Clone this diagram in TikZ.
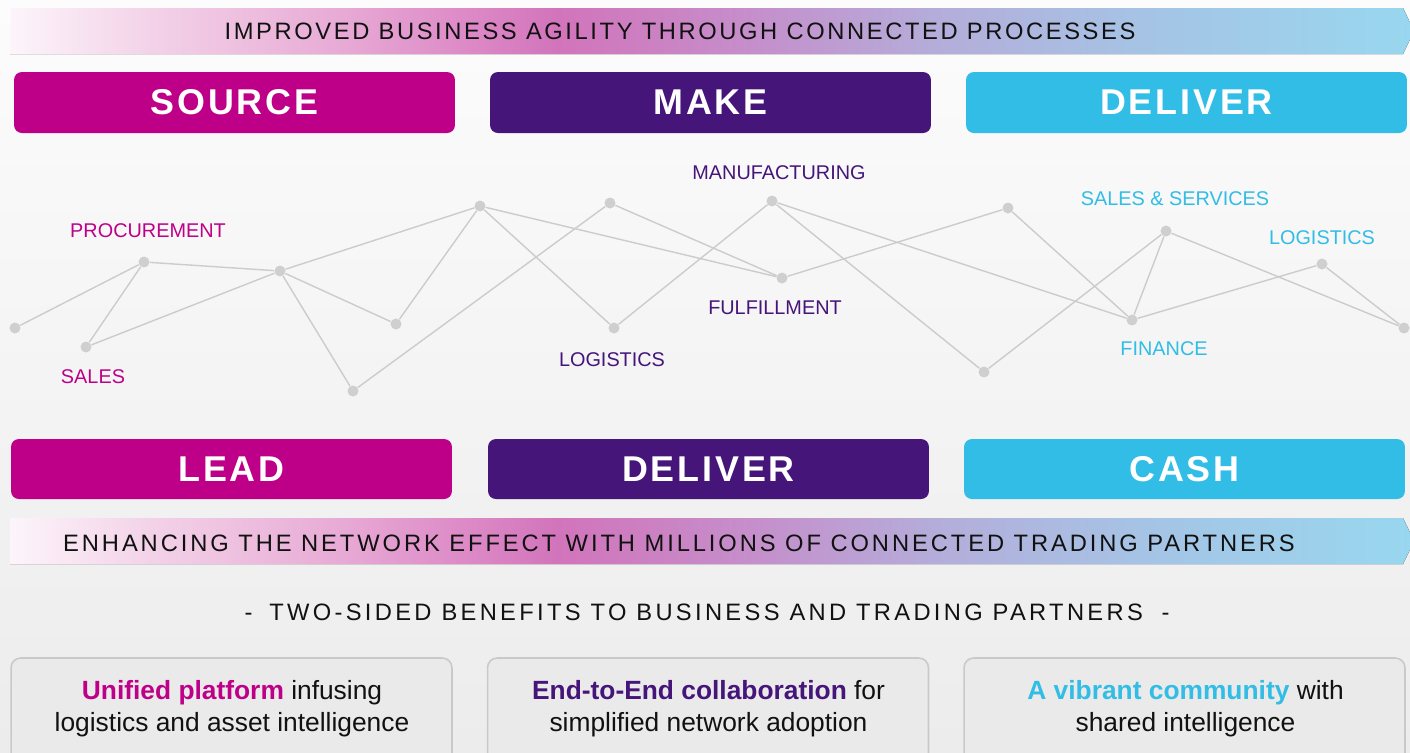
\documentclass[tikz,border=0pt]{standalone}
\usepackage{fontspec}
\setmainfont{Liberation Sans}
\usetikzlibrary{positioning}

\definecolor{srcmag}{HTML}{BE0089}
\definecolor{mkpurple}{HTML}{45157A}
\definecolor{dlvcyan}{HTML}{31BDE5}
\definecolor{dotgray}{HTML}{CFCFCF}
\definecolor{linegray}{HTML}{CCCCCC}
\definecolor{boxgray}{HTML}{C9C9C9}
\definecolor{boxfill}{HTML}{EAEAEA}
\definecolor{bgtop}{HTML}{FCFCFC}
\definecolor{bgbot}{HTML}{ECECEC}
\definecolor{inkblack}{HTML}{111111}
% banner gradient stops
\definecolor{bnA}{HTML}{F3D2E8}
\definecolor{bnB}{HTML}{E8ACD6}
\definecolor{bnC}{HTML}{DC88C6}
\definecolor{bnD}{HTML}{D274BB}
\definecolor{bnE}{HTML}{C58FCB}
\definecolor{bnF}{HTML}{B4ADDA}
\definecolor{bnG}{HTML}{A5C4E5}
\definecolor{bnH}{HTML}{98D7EF}

\pgfdeclarehorizontalshading{bannershade}{100bp}{%
  color(0bp)=(white); color(25bp)=(white!96!srcmag);
  color(30bp)=(bnA); color(36.5bp)=(bnB); color(41.5bp)=(bnC);
  color(44.5bp)=(bnD); color(51.5bp)=(bnE); color(58bp)=(bnF);
  color(65.5bp)=(bnG); color(75bp)=(bnH); color(100bp)=(bnH)}

\begin{document}
\begin{tikzpicture}[x=0.02cm,y=-0.02cm,
  hdr/.style={rectangle,rounded corners=4.5pt,minimum width=8.82cm,minimum height=1.22cm,
    text=white,font=\fontsize{20.4}{24}\selectfont\bfseries\addfontfeature{LetterSpace=8}},
  banner text/.style={inner sep=0pt,text=inkblack,
    font=\fontsize{13.5}{16}\selectfont\addfontfeature{LetterSpace=#1}},
  banner text/.default=11,
  dot/.style={circle,fill=dotgray,minimum size=0.22cm,inner sep=0pt},
  link/.style={draw=linegray,line width=0.8pt},
  tag/.style={inner sep=0pt,font=\fontsize{11.3}{13}\selectfont},
  benefit/.style={rectangle,rounded corners=5.5pt,draw=boxgray,line width=0.9pt,fill=boxfill,
    minimum width=8.82cm,minimum height=2.4cm},
  benefit text/.style={inner sep=0pt,anchor=north,align=center,text=inkblack,
    font=\fontsize{15}{18.1}\selectfont}]

\useasboundingbox (0,0) rectangle (1410,752);
\clip (0,0) rectangle (1410,752);
\fill[top color=bgtop,bottom color=bgbot] (0,0) rectangle (1410,752);

% gradient banners
\fill[shading=bannershade] (10,8) -- (1403,8) -- (1414,31) -- (1403,54) -- (10,54) -- cycle;
\fill[shading=bannershade] (10,518) -- (1403,518) -- (1414,541) -- (1403,564) -- (10,564) -- cycle;
\node[banner text] (agility) at (680,31) {IMPROVED BUSINESS AGILITY THROUGH CONNECTED PROCESSES};
\node[banner text=12.3] (network) at (679,543) {ENHANCING THE NETWORK EFFECT WITH MILLIONS OF CONNECTED TRADING PARTNERS};
\node[banner text=14] (twosided) at (707,612) {-\hspace{4pt} TWO-SIDED BENEFITS TO BUSINESS AND TRADING PARTNERS\hspace{5pt} -};

% process headers
\node[hdr,fill=srcmag]   (source)   at (234.5,102.5) {SOURCE};
\node[hdr,fill=mkpurple] (make)     at (710.5,102.5) {MAKE};
\node[hdr,fill=dlvcyan]  (deliver)  at (1186.5,102.5) {DELIVER};
\node[hdr,fill=srcmag,minimum height=1.2cm]   (lead)     at (231.5,469) {LEAD};
\node[hdr,fill=mkpurple,minimum height=1.2cm] (deliver2) at (708.5,469) {DELIVER};
\node[hdr,fill=dlvcyan,minimum height=1.2cm]  (cash)     at (1184.5,469) {CASH};

% network dots
\node[dot] (a)         at (15,328) {};
\node[dot] (procure)   at (144,262) {};
\node[dot] (sales)     at (86,347) {};
\node[dot] (b)         at (280,271) {};
\node[dot] (c)         at (396,324) {};
\node[dot] (d)         at (353,391) {};
\node[dot] (e)         at (480,206) {};
\node[dot] (f)         at (610,203) {};
\node[dot] (logist)    at (614,328) {};
\node[dot] (manuf)     at (772,201) {};
\node[dot] (fulfil)    at (782,278) {};
\node[dot] (g)         at (1008,208) {};
\node[dot] (h)         at (984,372) {};
\node[dot] (salesserv) at (1166,231) {};
\node[dot] (finance)   at (1132,320) {};
\node[dot] (logist2)   at (1322,264) {};
\node[dot] (i)         at (1404,328) {};

\path[link] (a) edge (procure)
  (procure) edge (sales) edge (b)
  (sales) edge (b)
  (b) edge (c) edge (d) edge (e)
  (c) edge (e)
  (d) edge (f)
  (e) edge (logist) edge (fulfil)
  (f) edge (fulfil)
  (logist) edge (manuf)
  (manuf) edge (finance) edge (h)
  (fulfil) edge (g)
  (g) edge (finance)
  (h) edge (salesserv)
  (salesserv) edge (finance) edge (i)
  (finance) edge (logist2)
  (logist2) edge (i);

% network labels
\node[tag,text=srcmag]   (procuretag)   at (148,231)  {PROCUREMENT};
\node[tag,text=srcmag]   (salestag)     at (93,377)   {SALES};
\node[tag,text=mkpurple] (logisttag)    at (612,360)  {LOGISTICS};
\node[tag,text=mkpurple] (manuftag)     at (779,173)  {MANUFACTURING};
\node[tag,text=mkpurple] (fulfiltag)    at (775,308)  {FULFILLMENT};
\node[tag,text=dlvcyan]  (salesservtag) at (1175,199) {SALES \& SERVICES};
\node[tag,text=dlvcyan]  (logist2tag)   at (1322,238) {LOGISTICS};
\node[tag,text=dlvcyan]  (financetag)   at (1164,349) {FINANCE};

% benefit boxes
\node[benefit] (unified) at (231.5,718) {};
\node[benefit] (endtoend) at (708,718) {};
\node[benefit] (vibrant) at (1184.5,718) {};
\node[benefit text] (unifiedtxt) at (232,680)
  {\textcolor{srcmag}{\bfseries Unified platform} infusing\\logistics and asset intelligence};
\node[benefit text] (endtoendtxt) at (708.5,680)
  {\textcolor{mkpurple}{\bfseries End-to-End collaboration} for\\simplified network adoption};
\node[benefit text] (vibranttxt) at (1185.5,680)
  {\textcolor{dlvcyan}{\bfseries A vibrant community} with\\shared intelligence};
\end{tikzpicture}
\end{document}
